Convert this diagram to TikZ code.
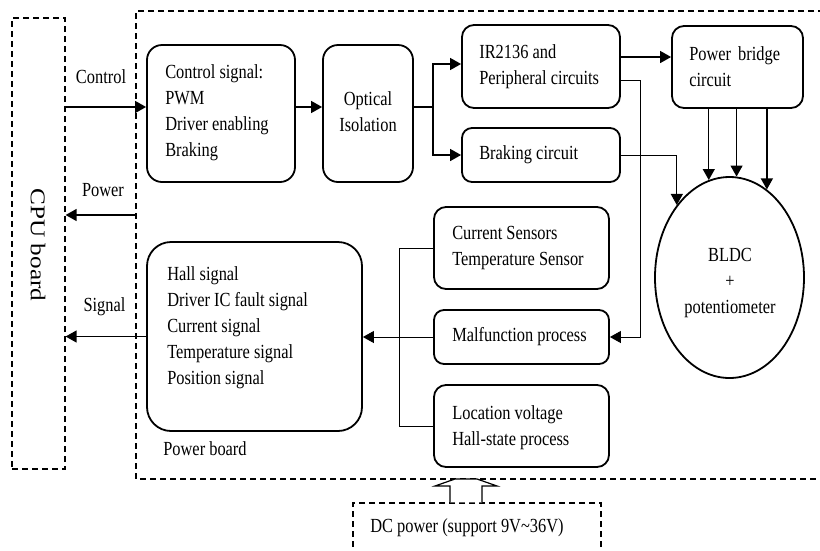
\documentclass[tikz,border=0pt]{standalone}
\usepackage{fontspec}
\setmainfont{Liberation Serif}[FakeStretch=0.82]
\newfontfamily\cpufont{Liberation Serif}[FakeStretch=1.2]
\usetikzlibrary{arrows.meta,calc,shapes.geometric}
\begin{document}
\begin{tikzpicture}[x=1pt,y=-1pt,
  txt/.style={font=\fontsize{20}{26}\selectfont, align=left, inner sep=0pt},
  ctxt/.style={font=\fontsize{20}{26}\selectfont, align=center, inner sep=0pt},
  box/.style={draw, line width=1.8pt, inner sep=0pt},
  conn/.style={line width=1.3pt},
  tip/.style={-{Triangle[length=11pt,width=12pt]}},
  arr/.style={conn, tip},
  thinl/.style={line width=0.9pt},
  dsh/.style={line width=1.2pt, dash pattern=on 6pt off 4pt}]
\useasboundingbox (0,0) rectangle (820,550);

% containers
\node[draw, dsh, inner sep=0pt, minimum width=53pt, minimum height=451pt] (cpu) at (38.5,243.5) {};
\node[rotate=-90, inner sep=0pt, font=\cpufont\fontsize{21}{24}\selectfont] (cpuT) at (38,245) {CPU board};
\draw[dsh] (824,11) -- (136,11) -- (136,479) -- (824,479);
\node[draw, dsh, inner sep=0pt, minimum width=248pt, minimum height=56pt] (dc) at (477,531) {};
\node[txt] (dcT) at (467,528) {DC power (support 9V\textasciitilde36V)};

% boxes
\node[box, rounded corners=15pt, minimum width=148pt, minimum height=137pt] (ctrl) at (221,113.5) {};
\node[txt, anchor=west] (ctrlT) at ($(ctrl.west)+(19,-1)$) {Control signal:\\PWM\\Driver enabling\\Braking};
\node[box, rounded corners=15pt, minimum width=90pt, minimum height=137pt] (opt) at (368,113.5) {};
\node[ctxt] (optT) at ($(opt.center)+(0,-1.5)$) {Optical\\Isolation};
\node[box, rounded corners=12pt, minimum width=158pt, minimum height=83pt] (ir) at (541,66.5) {};
\node[txt, anchor=west] (irT) at ($(ir.west)+(18,0)$) {IR2136 and\\Peripheral circuits};
\node[box, rounded corners=10pt, minimum width=158pt, minimum height=54pt] (brk) at (541,155) {};
\node[txt, anchor=west] (brkT) at ($(brk.west)+(18,0)$) {Braking circuit};
\node[box, rounded corners=12pt, minimum width=131pt, minimum height=82pt] (pb) at (737.5,67) {};
\node[txt, anchor=west] (pbT) at ($(pb.west)+(18,0)$) {Power\hspace{7pt}bridge\\circuit};
\node[box, ellipse, minimum width=149pt, minimum height=201pt] (ell) at (729.5,277.5) {};
\node[ctxt] (ellT) at (730,283) {BLDC\\+\\potentiometer};
\node[box, rounded corners=12pt, minimum width=175pt, minimum height=82pt] (cur) at (521.5,248) {};
\node[txt, anchor=west] (curT) at ($(cur.west)+(19,0)$) {Current Sensors\\Temperature Sensor};
\node[box, rounded corners=10pt, minimum width=175pt, minimum height=54pt] (mal) at (521.5,337) {};
\node[txt, anchor=west] (malT) at ($(mal.west)+(19,0)$) {Malfunction process};
\node[box, rounded corners=12pt, minimum width=175pt, minimum height=82pt] (loc) at (521.5,426) {};
\node[txt, anchor=west] (locT) at ($(loc.west)+(19,2)$) {Location voltage\\Hall-state process};
\node[box, rounded corners=24pt, minimum width=215pt, minimum height=189pt] (hall) at (254.5,336.5) {};
\node[txt, anchor=west] (hallT) at ($(hall.west)+(21,-9)$) {Hall signal\\Driver IC fault signal\\Current signal\\Temperature signal\\Position signal};

% labels
\node[txt] (lblC) at (101,77) {Control};
\node[txt] (lblP) at (103,190) {Power};
\node[txt] (lblS) at (104.5,307) {Signal};
\node[txt] (lblPB) at (205,449) {Power board};

% coordinates
\coordinate (pwrL) at (136,215);
\coordinate (br) at (433,107);
\coordinate (bus) at (399,0);

% connectors
\draw[arr] (cpu.east |- 0,107) -- (ctrl.west |- 0,107);
\draw[arr] (pwrL) -- (cpu.east |- pwrL);
\draw[arr] (hall.west) -- (cpu.east |- hall.west);
\draw[arr] (ctrl.east |- 0,107) -- (opt.west |- 0,107);
\draw[conn] (opt.east |- br) -- (br);
\draw[arr] (br) |- (ir.west |- 0,64);
\draw[arr] (br) |- (brk.west);
\draw[arr] (ir.east |- 0,57) -- (pb.west |- 0,57);
\draw[thinl, tip] (ir.east |- 0,80) -- (640,80) |- (mal.east);
\draw[thinl, tip] (brk.east) -| (ell.126.4);
\draw[arr] (pb.south -| ell.102) -- (ell.102);
\draw[arr] (pb.south -| ell.86.3) -- (ell.86.3);
\draw[arr] (pb.south -| ell.67.4) -- (ell.67.4);
\draw[thinl] (cur.west) -- (bus |- cur.west) -- (bus |- loc.west) -- (loc.west);
\draw[thinl, tip] (mal.west) -- (hall.east |- mal.west);

% hollow power arrow
\draw[line width=1.2pt, fill=white] (dc.north -| 450,0) -- (450,486) -- (435,486) -- (455,479) -- (477,479) -- (497,486) -- (482,486) -- (dc.north -| 482,0);
\end{tikzpicture}
\end{document}
